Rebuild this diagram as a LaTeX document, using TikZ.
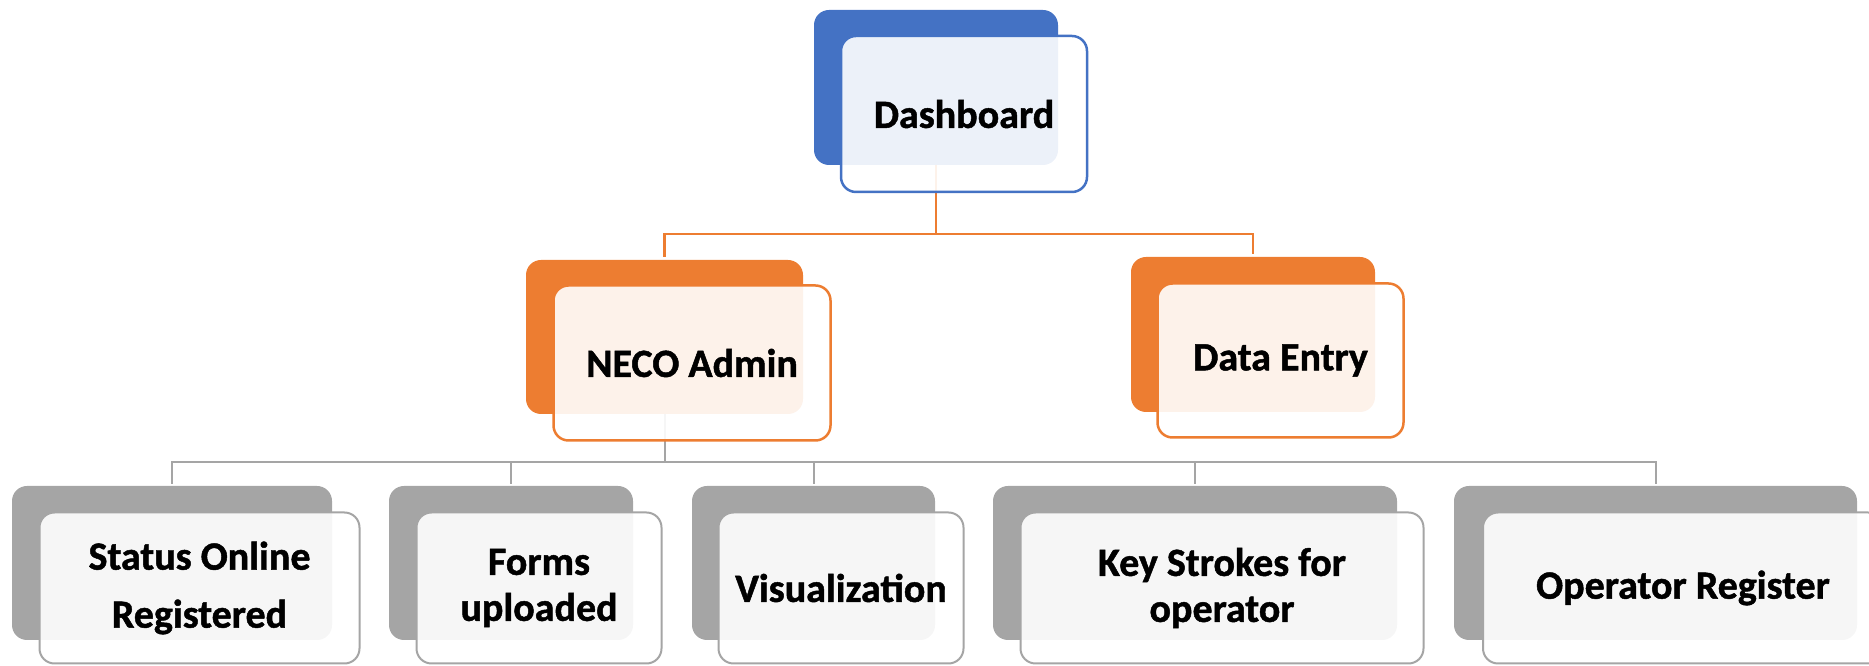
\documentclass[tikz,border=0pt]{standalone}
\usepackage{fontspec}
\setmainfont{Carlito}[BoldFeatures={FakeBold=1.2}]
\definecolor{cblue}{HTML}{4472C4}
\definecolor{corange}{HTML}{ED7D31}
\definecolor{cgray}{HTML}{A5A5A5}
\tikzset{
  backbox/.style={rectangle, rounded corners=15pt, inner sep=0pt, outer sep=0pt, fill=#1},
  frontbox/.style={rectangle, rounded corners=15pt, draw=#1, line width=2.5pt, fill=white,
    fill opacity=0.9, text opacity=1, inner sep=0pt, outer sep=0pt, align=center,
    font=\fontsize{40}{46}\selectfont\bfseries},
  orangeline/.style={draw=corange, line width=2.6pt},
  grayline/.style={draw=cgray, line width=2pt}
}
\begin{document}
\begin{tikzpicture}[x=1pt,y=1pt]
\useasboundingbox (0,0) rectangle (1869,666);
% back boxes
\node[backbox=cblue, minimum width=244pt, minimum height=155pt] (dashB) at (936,578.5) {};
\node[backbox=corange, minimum width=277pt, minimum height=154pt] (necoB) at (664.5,329) {};
\node[backbox=corange, minimum width=244pt, minimum height=155pt] (dataB) at (1253,331.5) {};
\node[backbox=cgray, minimum width=320pt, minimum height=154pt] (b1B) at (172,103) {};
\node[backbox=cgray, minimum width=244pt, minimum height=154pt] (b2B) at (511,103) {};
\node[backbox=cgray, minimum width=243pt, minimum height=154pt] (b3B) at (813.5,103) {};
\node[backbox=cgray, minimum width=404pt, minimum height=154pt] (b4B) at (1195,103) {};
\node[backbox=cgray, minimum width=403pt, minimum height=154pt] (b5B) at (1655.5,103) {};
% connectors
\coordinate (j1) at (dashB.south |- 0,432);
\draw[orangeline] (dashB.south) -- (j1);
\draw[orangeline] (j1) -| ([yshift=3pt]necoB.north);
\draw[orangeline] (j1) -| ([yshift=3pt]dataB.north);
\coordinate (j2) at (necoB.south |- 0,204);
\draw[grayline] (necoB.south) -- (j2);
\foreach \b in {b1B,b2B,b3B,b4B,b5B}{
  \draw[grayline] (j2) -| ([yshift=2pt]\b.north);
}
% front boxes
\node[frontbox=cblue, minimum width=246pt, minimum height=156pt] (dash) at (964,552) {Dashboard};
\node[frontbox=corange, minimum width=277pt, minimum height=155pt] (neco) at (692,303) {NECO Admin};
\node[frontbox=corange, minimum width=246pt, minimum height=154pt] (data) at (1280.5,305.5) {Data Entry};
\node[frontbox=cgray, line width=2pt, minimum width=320pt, minimum height=151pt,
      font=\fontsize{40}{58}\selectfont\bfseries] (b1) at (199.5,78) {Status Online\\Registered};
\node[frontbox=cgray, line width=2pt, minimum width=245pt, minimum height=151pt] (b2) at (539,78) {Forms\\uploaded};
\node[frontbox=cgray, line width=2pt, minimum width=245pt, minimum height=151pt] (b3) at (841,78) {Visualization};
\node[frontbox=cgray, line width=2pt, minimum width=403pt, minimum height=151pt] (b4) at (1222,78) {Key Strokes for\\operator};
\node[frontbox=cgray, line width=2pt, minimum width=400pt, minimum height=151pt] (b5) at (1683,78) {Operator Register};
\end{tikzpicture}
\end{document}
